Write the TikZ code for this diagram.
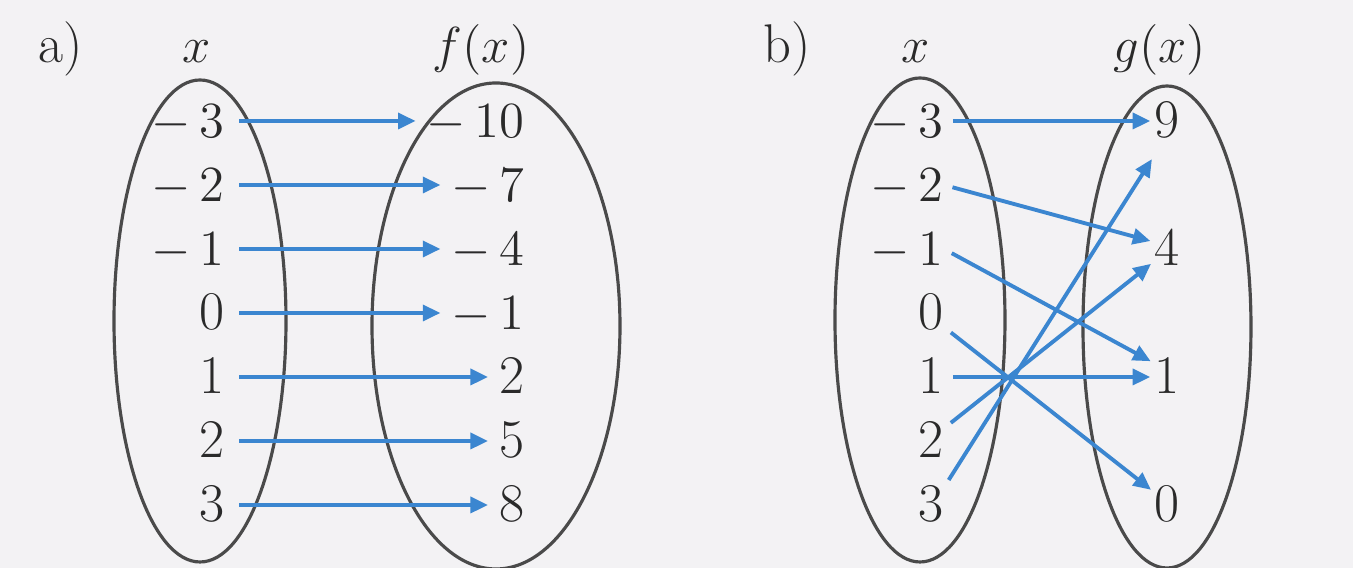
\documentclass[tikz,border=0pt]{standalone}
\usetikzlibrary{arrows.meta}
\definecolor{mapblue}{HTML}{3B86D0}
\definecolor{ink}{HTML}{2A2A2A}
\definecolor{rim}{HTML}{4A4A4A}
\definecolor{paper}{HTML}{F3F2F4}

\begin{document}
\begin{tikzpicture}[
  x=0.01cm, y=-0.01cm,
  val/.style={inner sep=0pt, text height=0.95em, text depth=0pt, text=ink,
              font=\fontsize{15.5}{18}\selectfont},
  lbl/.style={inner sep=0pt, anchor=base, text=ink, font=\fontsize{15.5}{18}\selectfont},
  set/.style={draw=rim, line width=0.9pt},
  arr/.style={-{Triangle[length=5pt,width=4.5pt]}, draw=mapblue, line width=1.1pt,
              shorten <=4pt, shorten >=3pt},
  arrb/.style={arr, shorten <=2.5pt, shorten >=1pt}
]
  \useasboundingbox (0,0) rectangle (1353,568);
  \fill[paper] (0,0) rectangle (1353,568);

  % a) x -> f(x)
  \node[lbl] (la) at (61,63)  {a)};
  \node[lbl] (xa) at (197,63) {$x$};
  \node[lbl] (fa) at (481,63) {$f(x)$};
  \draw[set] (200,321) ellipse [x radius=86, y radius=241];
  \draw[set] (496,326) ellipse [x radius=124, y radius=243];

  \node[val, anchor=east] (xa1) at (225,121) {$-\,3$};
  \node[val, anchor=east] (xa2) at (225,185) {$-\,2$};
  \node[val, anchor=east] (xa3) at (225,249) {$-\,1$};
  \node[val, anchor=east] (xa4) at (225,313) {0};
  \node[val, anchor=east] (xa5) at (225,377) {1};
  \node[val, anchor=east] (xa6) at (225,441) {2};
  \node[val, anchor=east] (xa7) at (225,505) {3};

  \node[val, anchor=east] (fa1) at (525,121) {$-\,10$};
  \node[val, anchor=east] (fa2) at (525,185) {$-\,7$};
  \node[val, anchor=east] (fa3) at (525,249) {$-\,4$};
  \node[val, anchor=east] (fa4) at (525,313) {$-\,1$};
  \node[val, anchor=east] (fa5) at (525,377) {2};
  \node[val, anchor=east] (fa6) at (525,441) {5};
  \node[val, anchor=east] (fa7) at (525,505) {8};

  \draw[arr] (xa1) -- (fa1);
  \draw[arr] (xa2) -- (fa2);
  \draw[arr] (xa3) -- (fa3);
  \draw[arr] (xa4) -- (fa4);
  \draw[arr] (xa5) -- (fa5);
  \draw[arr] (xa6) -- (fa6);
  \draw[arr] (xa7) -- (fa7);

  % b) x -> g(x)
  \node[lbl] (lb) at (787,63)  {b)};
  \node[lbl] (xb) at (916,63)  {$x$};
  \node[lbl] (gb) at (1160,63) {$g(x)$};
  \draw[set] (920,320)  ellipse [x radius=85, y radius=242];
  \draw[set] (1167,327) ellipse [x radius=84, y radius=241];

  \node[val, anchor=east] (xb1) at (944,121) {$-\,3$};
  \node[val, anchor=east] (xb2) at (944,185) {$-\,2$};
  \node[val, anchor=east] (xb3) at (944,249) {$-\,1$};
  \node[val, anchor=east] (xb4) at (944,313) {0};
  \node[val, anchor=east] (xb5) at (944,377) {1};
  \node[val, anchor=east] (xb6) at (944,441) {2};
  \node[val, anchor=east] (xb7) at (944,505) {3};

  \node[val] (gb9) at (1167,121) {9};
  \node[val] (gb4) at (1167,249) {4};
  \node[val] (gb1) at (1167,377) {1};
  \node[val] (gb0) at (1167,505) {0};

  \draw[arrb] (xb1.east) -- (gb9.west);
  \draw[arrb] (xb2.east) -- ([yshift=2pt]gb4.west);
  \draw[arrb] (xb3.east) -- ([yshift=4pt]gb1.west);
  \draw[arrb] ([yshift=-4pt]xb4.east) -- ([yshift=3.7pt]gb0.west);
  \draw[arrb] (xb5.east) -- (gb1.west);
  \draw[arrb] ([yshift=3.6pt]xb6.east) -- ([yshift=-3.6pt]gb4.west);
  \draw[arrb] ([yshift=5pt]xb7.east) -- ([yshift=-10pt]gb9.west);
\end{tikzpicture}
\end{document}
